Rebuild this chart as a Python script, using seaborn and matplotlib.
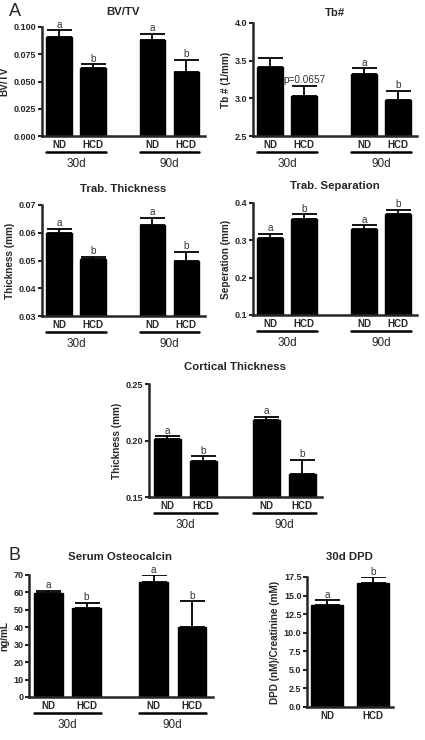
import matplotlib
matplotlib.use("Agg")
import matplotlib.pyplot as plt
import seaborn as sns
import numpy as np
import pandas as pd

# ---- data ----
groups = ["ND", "HCD", "ND", "HCD"]
times = ["30d", "90d"]

bvtv_mean = [0.091, 0.062, 0.088, 0.059]
bvtv_sem = [0.006, 0.004, 0.006, 0.011]
bvtv_lab = ["a", "b", "a", "b"]

tbn_mean = [3.41, 3.03, 3.32, 2.98]
tbn_sem = [0.12, 0.14, 0.08, 0.12]
tbn_lab = ["", "p=0.0657", "a", "b"]

tbth_mean = [0.0600, 0.0506, 0.0628, 0.0498]
tbth_sem = [0.0014, 0.0008, 0.0026, 0.0034]
tbth_lab = ["a", "b", "a", "b"]

tbsp_mean = [0.306, 0.356, 0.330, 0.370]
tbsp_sem = [0.012, 0.014, 0.010, 0.012]
tbsp_lab = ["a", "b", "a", "b"]

ctth_mean = [0.201, 0.182, 0.218, 0.170]
ctth_sem = [0.003, 0.004, 0.003, 0.013]
ctth_lab = ["a", "b", "a", "b"]

ocn_mean = [59.5, 51.0, 66.0, 40.0]
ocn_sem = [1.5, 3.0, 4.0, 15.0]
ocn_lab = ["a", "b", "a", "b"]

dpd_groups = ["ND", "HCD"]
dpd_mean = [13.7, 16.7]
dpd_sem = [0.7, 0.8]
dpd_lab = ["a", "b"]

pos4 = [0, 1, 2.75, 3.75]
pos2 = [0, 1]

sns.set_style("ticks")
plt.rcParams["font.family"] = ["Liberation Sans", "DejaVu Sans"]

W, H = 425, 740
fig = plt.figure(figsize=(W / 100, H / 100), dpi=100)


def make_ax(l, r, t, b):
    return fig.add_axes([l / W, 1 - b / H, (r - l) / W, (b - t) / H])


def draw(ax, pos, mean, sem, labels, ticklabels, ylim, yticks, fmt, ylabel, width, xlim, hpx, grouped=True):
    df = pd.DataFrame({"x": pos, "y": mean})
    sns.barplot(data=df, x="x", y="y", native_scale=True, width=width,
                color="black", edgecolor="black", errorbar=None, ax=ax)
    ax.errorbar(pos, mean, yerr=[np.zeros(len(sem)), sem], fmt="none",
                ecolor="black", elinewidth=1.3, capsize=9, capthick=1.3)
    for x, m, s, lab in zip(pos, mean, sem, labels):
        if lab:
            ax.annotate(lab, (x, m + s), xytext=(0, 0.3), textcoords="offset points",
                        ha="center", va="bottom", fontsize=7.2, color="#333333")
    ax.set_xlim(*xlim)
    ax.set_ylim(*ylim)
    ax.set_yticks(yticks)
    ax.set_yticklabels([fmt.format(v) for v in yticks], fontsize=6.5, fontweight="bold")
    ax.set_xticks(pos)
    ax.set_xticklabels(ticklabels, fontsize=7, fontweight="bold")
    ax.tick_params(axis="x", length=0, pad=3)
    ax.tick_params(axis="y", length=3, width=1.5, pad=1)
    ax.set_xlabel("")
    ax.set_ylabel(ylabel, fontsize=7.2, fontweight="bold", labelpad=3)
    sns.despine(ax=ax)
    for sp in ["left", "bottom"]:
        ax.spines[sp].set_linewidth(1.8)
    if grouped:
        half = width / 2
        yl = -16 / hpx
        yt = -28 / hpx
        for i, t in enumerate(times):
            x0 = pos[2 * i] - half
            x1 = pos[2 * i + 1] + half
            ax.plot([x0, x1], [yl, yl], color="black", lw=1.8,
                    transform=ax.get_xaxis_transform(), clip_on=False)
            ax.text((x0 + x1) / 2, yt, t, ha="center", va="center", fontsize=8.5,
                    transform=ax.get_xaxis_transform())


xl4 = (-0.5, 4.3)

ax = make_ax(42, 205, 27, 136)
draw(ax, pos4, bvtv_mean, bvtv_sem, bvtv_lab, groups, (0, 0.1),
     [0, 0.025, 0.05, 0.075, 0.1], "{:.3f}", "BV/TV", 0.75, xl4, 109)
fig.text(123 / W, 1 - 12 / H, "BV/TV", ha="center", va="center", fontsize=8.2, fontweight="bold")

ax = make_ax(253, 417, 23, 136)
draw(ax, pos4, tbn_mean, tbn_sem, tbn_lab, groups, (2.5, 4.0),
     [2.5, 3.0, 3.5, 4.0], "{:.1f}", "Tb # (1/mm)", 0.75, xl4, 113)
fig.text(335 / W, 1 - 13 / H, "Tb#", ha="center", va="center", fontsize=8.2, fontweight="bold")

ax = make_ax(42, 205, 205, 316)
draw(ax, pos4, tbth_mean, tbth_sem, tbth_lab, groups, (0.03, 0.07),
     [0.03, 0.04, 0.05, 0.06, 0.07], "{:.2f}", "Thickness (mm)", 0.75, xl4, 111)
fig.text(123 / W, 1 - 189 / H, "Trab. Thickness", ha="center", va="center", fontsize=8.2, fontweight="bold")

ax = make_ax(253, 417, 203, 315)
draw(ax, pos4, tbsp_mean, tbsp_sem, tbsp_lab, groups, (0.1, 0.4),
     [0.1, 0.2, 0.3, 0.4], "{:.1f}", "Seperation (mm)", 0.75, xl4, 112)
fig.text(335 / W, 1 - 186 / H, "Trab. Separation", ha="center", va="center", fontsize=8.2, fontweight="bold")

ax = make_ax(149, 322, 384, 497)
draw(ax, pos4, ctth_mean, ctth_sem, ctth_lab, groups, (0.15, 0.25),
     [0.15, 0.20, 0.25], "{:.2f}", "Thickness (mm)", 0.75, xl4, 113)
fig.text(235 / W, 1 - 367 / H, "Cortical Thickness", ha="center", va="center", fontsize=8.2, fontweight="bold")

ax = make_ax(29, 213, 575, 697)
draw(ax, pos4, ocn_mean, ocn_sem, ocn_lab, groups, (0, 70),
     list(range(0, 71, 10)), "{:d}", "ng/mL", 0.75, xl4, 122)
fig.text(120 / W, 1 - 557 / H, "Serum Osteocalcin", ha="center", va="center", fontsize=8.2, fontweight="bold")

ax = make_ax(307, 393, 577, 707)
draw(ax, pos2, dpd_mean, dpd_sem, dpd_lab, dpd_groups, (0, 17.5),
     [0, 2.5, 5, 7.5, 10, 12.5, 15, 17.5], "{:.1f}", "DPD (nM)/Creatinine (mM)",
     0.7, (-0.43, 1.43), 130, grouped=False)
fig.text(349 / W, 1 - 557 / H, "30d DPD", ha="center", va="center", fontsize=8.2, fontweight="bold")

fig.text(15 / W, 1 - 12 / H, "A", ha="center", va="center", fontsize=13)
fig.text(15 / W, 1 - 555 / H, "B", ha="center", va="center", fontsize=13)

fig.savefig("out.png", dpi=100)
